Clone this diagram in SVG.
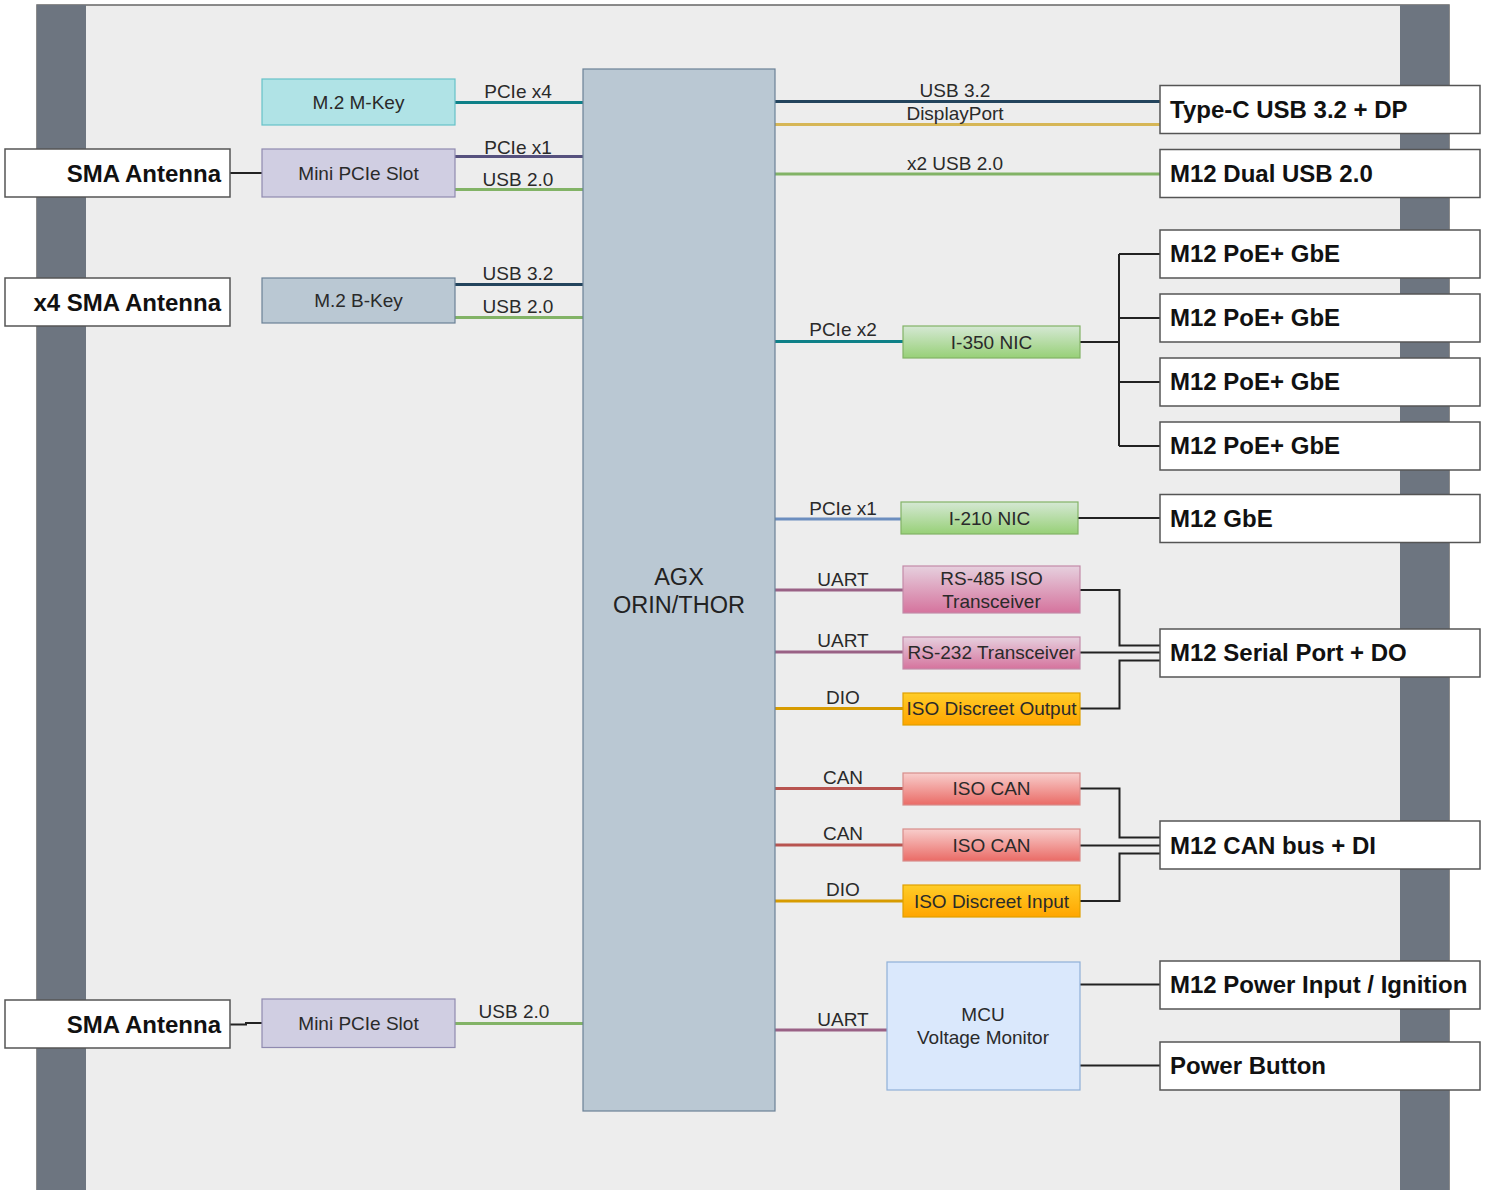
<svg xmlns="http://www.w3.org/2000/svg" width="1489" height="1190" viewBox="0 0 1489 1190">
<style>
text{font-family:"Liberation Sans",Arial,sans-serif;}
.t{font-size:19px;fill:#2a2a2a;text-anchor:middle;}
.b{font-size:24px;font-weight:bold;fill:#111;}
.wb{fill:#fff;stroke:#555;stroke-width:1.5;}
.e{fill:none;stroke-width:3;}
.k{fill:none;stroke:#222;stroke-width:2;}
</style>
<defs>
<linearGradient id="gG" x1="0" y1="0" x2="0" y2="1"><stop offset="0" stop-color="#d5e8d4"/><stop offset="1" stop-color="#97d077"/></linearGradient>
<linearGradient id="gP" x1="0" y1="0" x2="0" y2="1"><stop offset="0" stop-color="#e6d0de"/><stop offset="1" stop-color="#d5739d"/></linearGradient>
<linearGradient id="gO" x1="0" y1="0" x2="0" y2="1"><stop offset="0" stop-color="#ffcd28"/><stop offset="1" stop-color="#ffa500"/></linearGradient>
<linearGradient id="gR" x1="0" y1="0" x2="0" y2="1"><stop offset="0" stop-color="#f8cecc"/><stop offset="1" stop-color="#ea6b66"/></linearGradient>
</defs>
<rect width="1489" height="1190" fill="#fff"/>
<g id="enclosure">
<rect x="37" y="5" width="1412" height="1200" fill="#ededed" stroke="#666" stroke-width="1.5"/>
<rect x="37" y="5" width="49" height="1200" fill="#6d7580"/>
<rect x="1400" y="5" width="49" height="1200" fill="#6d7580"/>
</g>
<g id="connectors">
<path class="e" stroke="#0e8088" d="M455,102.5H583"/>
<path class="e" stroke="#56517e" d="M455,156.5H583"/>
<path class="e" stroke="#82b366" d="M455,189.5H583"/>
<path class="e" stroke="#23445d" d="M455,284.5H583"/>
<path class="e" stroke="#82b366" d="M455,317.5H583"/>
<path class="e" stroke="#82b366" d="M455,1023.5H583"/>
<path class="k" d="M230,173H262"/>
<path class="k" d="M230,1024.5H246V1023H262"/>
<path class="e" stroke="#23445d" d="M775,101.5H1160"/>
<path class="e" stroke="#d6b656" d="M775,124.5H1160"/>
<path class="e" stroke="#82b366" d="M775,174H1160"/>
<path class="e" stroke="#0e8088" d="M775,341.5H903"/>
<path class="e" stroke="#6c8ebf" d="M775,519H901"/>
<path class="e" stroke="#996185" d="M775,590H903"/>
<path class="e" stroke="#996185" d="M775,652H903"/>
<path class="e" stroke="#d79b00" d="M775,708.5H903"/>
<path class="e" stroke="#b85450" d="M775,788.5H903"/>
<path class="e" stroke="#b85450" d="M775,845H903"/>
<path class="e" stroke="#d79b00" d="M775,901H903"/>
<path class="e" stroke="#996185" d="M775,1030H887"/>
<path class="k" stroke-width="2.5" d="M1080,342H1119"/>
<path class="k" d="M1119,254V446M1119,254H1160M1119,318H1160M1119,382H1160M1119,446H1160"/>
<path class="k" d="M1078,518H1160"/>
<path class="k" d="M1080,590H1119.5V645.5H1160"/>
<path class="k" d="M1080,652.5H1160"/>
<path class="k" d="M1080,708.5H1119.5V660.5H1160"/>
<path class="k" d="M1080,788.5H1119.5V837.5H1160"/>
<path class="k" d="M1080,845.5H1160"/>
<path class="k" d="M1080,901H1119.5V853.5H1160"/>
<path class="k" d="M1080,984.5H1160"/>
<path class="k" d="M1080,1065.5H1160"/>
</g>
<g id="edge-labels" class="t">
<text class="t" x="518" y="98">PCIe x4</text>
<text class="t" x="518" y="153.5">PCIe x1</text>
<text class="t" x="518" y="186">USB 2.0</text>
<text class="t" x="518" y="280">USB 3.2</text>
<text class="t" x="518" y="313">USB 2.0</text>
<text class="t" x="514" y="1018">USB 2.0</text>
<text class="t" x="955" y="97">USB 3.2</text>
<text class="t" x="955" y="120">DisplayPort</text>
<text class="t" x="955" y="169.5">x2 USB 2.0</text>
<text class="t" x="843" y="336">PCIe x2</text>
<text class="t" x="843" y="514.5">PCIe x1</text>
<text class="t" x="843" y="586">UART</text>
<text class="t" x="843" y="647">UART</text>
<text class="t" x="843" y="704">DIO</text>
<text class="t" x="843" y="784">CAN</text>
<text class="t" x="843" y="840">CAN</text>
<text class="t" x="843" y="896">DIO</text>
<text class="t" x="843" y="1026">UART</text>
</g>
<g id="agx">
<rect x="583" y="69" width="192" height="1042" fill="#bac8d3" stroke="#6b8197" stroke-width="1.2"/>
<text x="679" y="585" font-size="23.5" fill="#222" text-anchor="middle">AGX</text>
<text x="679" y="613" font-size="23.5" fill="#222" text-anchor="middle">ORIN/THOR</text>
</g>
<g id="m2-mkey"><rect x="262" y="79" width="193" height="46" fill="#b0e3e6" stroke="#67c2c8" stroke-width="1.2"/><text class="t" x="358.5" y="108.5">M.2 M-Key</text></g>
<g id="minipcie-1"><rect x="262" y="149" width="193" height="48" fill="#d0cee2" stroke="#8f8ab0" stroke-width="1.2"/><text class="t" x="358.5" y="179.5">Mini PCIe Slot</text></g>
<g id="m2-bkey"><rect x="262" y="278" width="193" height="45" fill="#bac8d3" stroke="#6b8197" stroke-width="1.2"/><text class="t" x="358.5" y="306.5">M.2 B-Key</text></g>
<g id="minipcie-2"><rect x="262" y="999" width="193" height="48.5" fill="#d0cee2" stroke="#8f8ab0" stroke-width="1.2"/><text class="t" x="358.5" y="1029.5">Mini PCIe Slot</text></g>
<g id="sma-1"><rect class="wb" x="5" y="149" width="225" height="48"/><text class="b" x="221" y="181.5" text-anchor="end">SMA Antenna</text></g>
<g id="sma-x4"><rect class="wb" x="5" y="278" width="225" height="48"/><text class="b" x="221" y="310.5" text-anchor="end">x4 SMA Antenna</text></g>
<g id="sma-2"><rect class="wb" x="5" y="1000" width="225" height="48"/><text class="b" x="221" y="1032.5" text-anchor="end">SMA Antenna</text></g>
<g id="i350"><rect x="903" y="326" width="177" height="32" fill="url(#gG)" stroke="#82b366" stroke-width="1.2"/><text class="t" x="991.5" y="348.5">I-350 NIC</text></g>
<g id="i210"><rect x="901" y="502" width="177" height="32" fill="url(#gG)" stroke="#82b366" stroke-width="1.2"/><text class="t" x="989.5" y="524.5">I-210 NIC</text></g>
<g id="rs485"><rect x="903" y="566" width="177" height="47" fill="url(#gP)" stroke="#c38aa8" stroke-width="1.2"/><text class="t" x="991.5" y="585">RS-485 ISO</text><text class="t" x="991.5" y="607.5">Transceiver</text></g>
<g id="rs232"><rect x="903" y="637" width="177" height="32" fill="url(#gP)" stroke="#c38aa8" stroke-width="1.2"/><text class="t" x="991.5" y="659">RS-232 Transceiver</text></g>
<g id="iso-do"><rect x="903" y="693" width="177" height="32" fill="url(#gO)" stroke="#e0a000" stroke-width="1.2"/><text class="t" x="991.5" y="715">ISO Discreet Output</text></g>
<g id="iso-can-1"><rect x="903" y="773" width="177" height="32" fill="url(#gR)" stroke="#d88d8a" stroke-width="1.2"/><text class="t" x="991.5" y="795">ISO CAN</text></g>
<g id="iso-can-2"><rect x="903" y="829" width="177" height="32" fill="url(#gR)" stroke="#d88d8a" stroke-width="1.2"/><text class="t" x="991.5" y="851.5">ISO CAN</text></g>
<g id="iso-di"><rect x="903" y="885" width="177" height="32" fill="url(#gO)" stroke="#e0a000" stroke-width="1.2"/><text class="t" x="991.5" y="907.5">ISO Discreet Input</text></g>
<g id="mcu"><rect x="887" y="962" width="193" height="128" fill="#dae8fc" stroke="#8fb0d8" stroke-width="1.2"/><text class="t" x="983" y="1021">MCU</text><text class="t" x="983" y="1044">Voltage Monitor</text></g>
<g id="typec"><rect class="wb" x="1160" y="85.5" width="320" height="48"/><text class="b" x="1170" y="117.5">Type-C USB 3.2 + DP</text></g>
<g id="m12-usb"><rect class="wb" x="1160" y="149.5" width="320" height="48"/><text class="b" x="1170" y="181.5">M12 Dual USB 2.0</text></g>
<g id="poe-1"><rect class="wb" x="1160" y="230" width="320" height="48"/><text class="b" x="1170" y="262">M12 PoE+ GbE</text></g>
<g id="poe-2"><rect class="wb" x="1160" y="294" width="320" height="48"/><text class="b" x="1170" y="326">M12 PoE+ GbE</text></g>
<g id="poe-3"><rect class="wb" x="1160" y="358" width="320" height="48"/><text class="b" x="1170" y="390">M12 PoE+ GbE</text></g>
<g id="poe-4"><rect class="wb" x="1160" y="422" width="320" height="48"/><text class="b" x="1170" y="454">M12 PoE+ GbE</text></g>
<g id="m12-gbe"><rect class="wb" x="1160" y="494.5" width="320" height="48"/><text class="b" x="1170" y="526.5">M12 GbE</text></g>
<g id="m12-serial"><rect class="wb" x="1160" y="629" width="320" height="48"/><text class="b" x="1170" y="661">M12 Serial Port + DO</text></g>
<g id="m12-can"><rect class="wb" x="1160" y="821" width="320" height="48"/><text class="b" x="1170" y="853.5">M12 CAN bus + DI</text></g>
<g id="m12-power"><rect class="wb" x="1160" y="961" width="320" height="48"/><text class="b" x="1170" y="993">M12 Power Input / Ignition</text></g>
<g id="power-btn"><rect class="wb" x="1160" y="1042" width="320" height="48"/><text class="b" x="1170" y="1074">Power Button</text></g>
</svg>
